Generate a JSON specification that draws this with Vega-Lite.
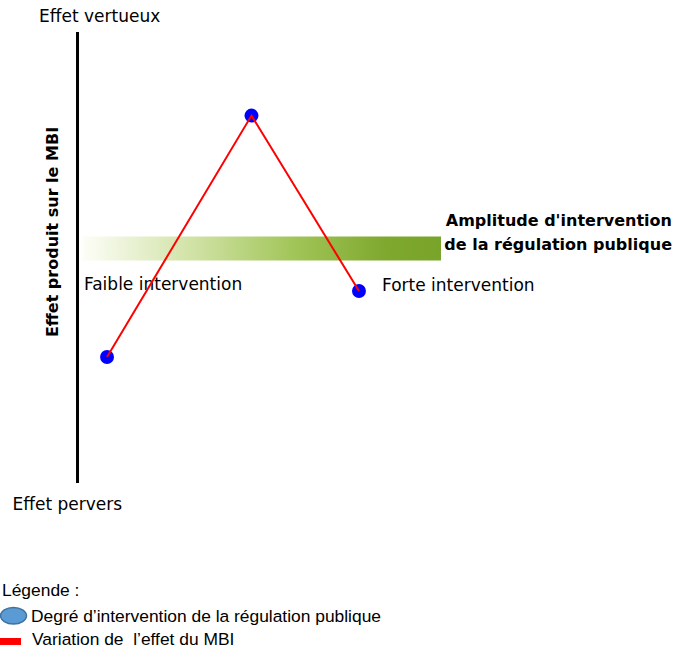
{
  "$schema": "https://vega.github.io/schema/vega-lite/v6.json",
  "width": 674,
  "height": 653,
  "padding": 0,
  "autosize": {"type": "none"},
  "background": "white",
  "config": {"view": {"stroke": null}},
  "datasets": {
    "axisLine": [{"x": 11.5, "y": 4.9, "y2": 73.97}],
    "band": [{"x": 12.17, "x2": 65.43, "y": 36.22, "y2": 39.89}],
    "points": [
      {"step": 1, "niveau": "Faible intervention", "x": 15.88, "y": 54.67},
      {"step": 2, "niveau": "Intervention moyenne", "x": 37.31, "y": 17.7},
      {"step": 3, "niveau": "Forte intervention", "x": 53.26, "y": 44.56}
    ],
    "plainLabels": [
      {"text": "Effet vertueux", "x": 5.79, "y": 3.37},
      {"text": "Effet pervers", "x": 1.85, "y": 78.1},
      {"text": "Faible intervention", "x": 12.46, "y": 44.41},
      {"text": "Forte intervention", "x": 56.68, "y": 44.56}
    ],
    "boldLabels": [
      {"text": "Amplitude d'intervention", "x": 99.7, "y": 34.61},
      {"text": "de la régulation publique", "x": 99.7, "y": 38.28}
    ],
    "axisTitle": [{"text": "Effet produit sur le MBI", "x": 7.8, "y": 35.53}],
    "legendLabels": [
      {"text": "Légende :", "x": 0.3, "y": 91.27},
      {"text": "Degré d’intervention de la régulation publique", "x": 4.6, "y": 95.18},
      {"text": "Variation de\u00a0 l’effet du MBI", "x": 4.75, "y": 98.85}
    ],
    "legendEllipse": [{"x": 2.0, "y": 94.29}],
    "legendBar": [{"x": 0, "x2": 3.12, "y": 97.7, "y2": 98.77}]
  },
  "encoding": {
    "x": {"field": "x", "type": "quantitative", "scale": {"domain": [0, 100], "nice": false, "zero": false}, "axis": null},
    "y": {"field": "y", "type": "quantitative", "scale": {"domain": [0, 100], "nice": false, "zero": false, "reverse": true}, "axis": null}
  },
  "layer": [
    {
      "data": {"name": "axisLine"},
      "mark": {"type": "rule", "color": "#000000", "strokeWidth": 3},
      "encoding": {"y2": {"field": "y2"}}
    },
    {
      "data": {"name": "band"},
      "mark": {
        "type": "rect",
        "fill": {
          "gradient": "linear",
          "x1": 0, "y1": 0, "x2": 1, "y2": 0,
          "stops": [
            {"offset": 0, "color": "#fdfef8"},
            {"offset": 0.3, "color": "#d2e3a8"},
            {"offset": 0.6, "color": "#a0c456"},
            {"offset": 0.85, "color": "#7ea82e"},
            {"offset": 1, "color": "#79a42a"}
          ]
        }
      },
      "encoding": {"x2": {"field": "x2"}, "y2": {"field": "y2"}}
    },
    {
      "data": {"name": "plainLabels"},
      "mark": {"type": "text", "font": "DejaVu Sans", "fontSize": 17, "align": "left", "baseline": "alphabetic", "color": "#000000"},
      "encoding": {"text": {"field": "text"}}
    },
    {
      "data": {"name": "boldLabels"},
      "mark": {"type": "text", "font": "DejaVu Sans", "fontSize": 16, "fontWeight": "bold", "align": "right", "baseline": "alphabetic", "color": "#000000"},
      "encoding": {"text": {"field": "text"}}
    },
    {
      "data": {"name": "axisTitle"},
      "mark": {"type": "text", "font": "DejaVu Sans", "fontSize": 16, "fontWeight": "bold", "align": "center", "baseline": "middle", "angle": 270, "color": "#000000"},
      "encoding": {"text": {"field": "text"}}
    },
    {
      "data": {"name": "points"},
      "mark": {"type": "circle", "color": "#0000ff", "opacity": 1, "size": 195},
      "encoding": {}
    },
    {
      "data": {"name": "points"},
      "mark": {"type": "line", "color": "#ff0000", "strokeWidth": 2},
      "encoding": {"order": {"field": "step", "type": "ordinal"}}
    },
    {
      "data": {"name": "legendLabels"},
      "mark": {"type": "text", "font": "Liberation Sans", "fontSize": 17.4, "align": "left", "baseline": "alphabetic", "color": "#000000"},
      "encoding": {"text": {"field": "text"}}
    },
    {
      "data": {"name": "legendEllipse"},
      "mark": {"type": "point", "shape": "M -1 0 A 1 0.64 0 1 1 1 0 A 1 0.64 0 1 1 -1 0 Z", "size": 676, "filled": true, "fill": "#5b9bd5", "stroke": "#41719c", "strokeWidth": 1.5, "opacity": 1},
      "encoding": {}
    },
    {
      "data": {"name": "legendBar"},
      "mark": {"type": "rect", "color": "#ff0000"},
      "encoding": {"x2": {"field": "x2"}, "y2": {"field": "y2"}}
    }
  ]
}
